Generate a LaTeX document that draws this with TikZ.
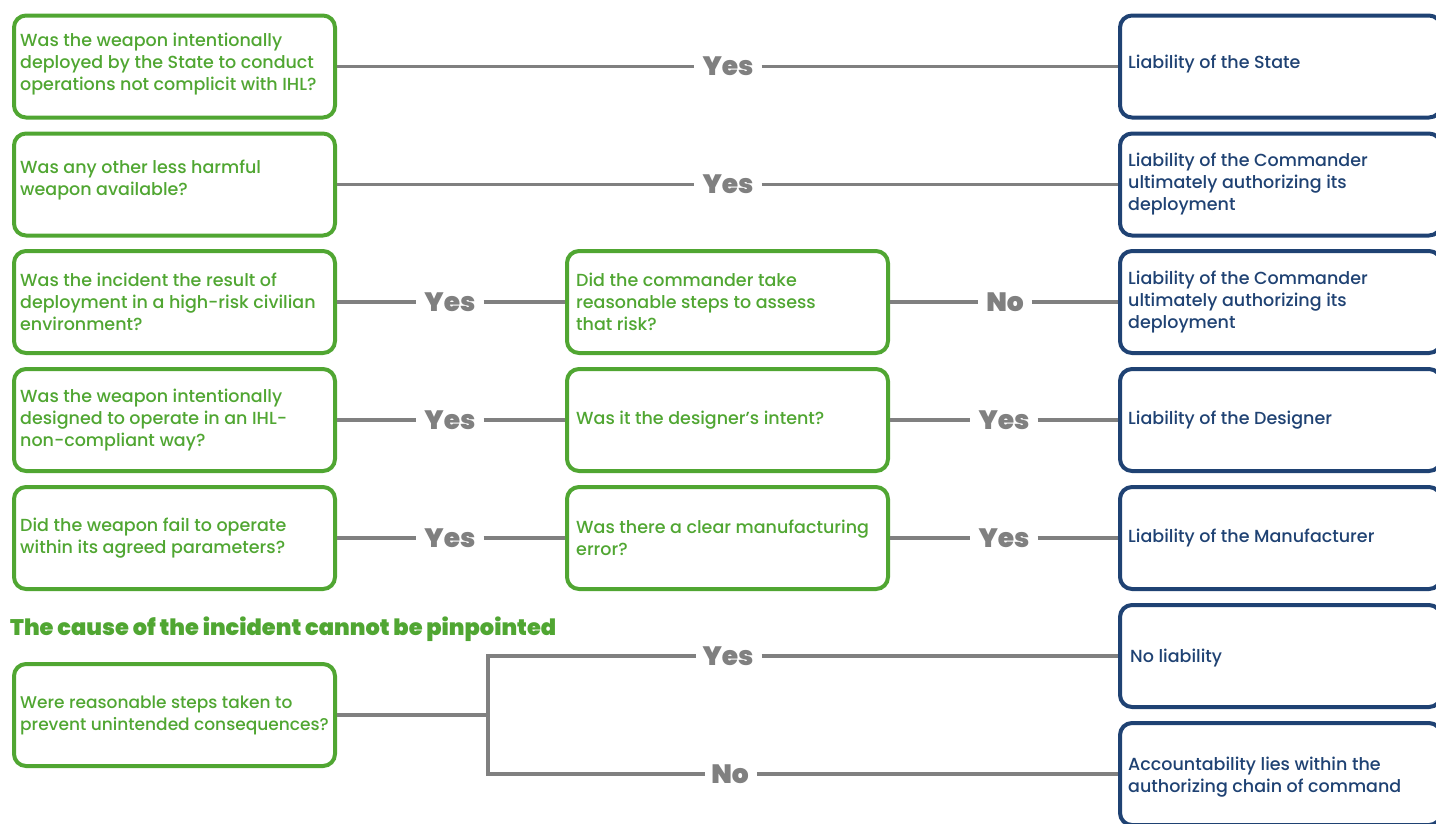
\documentclass[tikz,border=0pt]{standalone}
\usepackage{fontspec}
\setmainfont{Poppins}[UprightFont={* Medium},BoldFont={* Black}]
\definecolor{qgreen}{RGB}{80,166,50}
\definecolor{anavy}{RGB}{31,66,115}
\definecolor{lgray}{RGB}{128,128,128}
\begin{document}
\begin{tikzpicture}[x=1pt,y=-1pt,
  qbox/.style={draw=qgreen,line width=4pt,rounded corners=12pt,minimum width=321pt,minimum height=102pt,inner sep=0pt},
  abox/.style={draw=anavy,line width=4pt,rounded corners=12pt,minimum width=321pt,minimum height=102pt,inner sep=0pt},
  qtext/.style={anchor=west,align=left,text=qgreen,font=\fontsize{17.5}{22}\selectfont,inner sep=0pt},
  atext/.style={anchor=west,align=left,text=anavy,font=\fontsize{17.5}{22}\selectfont,inner sep=0pt},
  lab/.style={text=lgray,font=\fontsize{26.5}{26.5}\selectfont\bfseries,inner xsep=8pt,inner ysep=0pt},
  conn/.style={draw=lgray,line width=3.5pt}
]
\useasboundingbox (0,0) rectangle (1436,823);
\clip (0,0) rectangle (1436,823);
% left question boxes
\node[qbox] (q1) at (174.5,66.5) {};
\node[qbox] (q2) at (174.5,184.5) {};
\node[qbox] (q3) at (174.5,302) {};
\node[qbox] (q4) at (174.5,420) {};
\node[qbox] (q5) at (174.5,538) {};
\node[qbox] (q6) at (174.5,715) {};
% middle boxes
\node[qbox] (m3) at (727.5,302) {};
\node[qbox] (m4) at (727.5,420) {};
\node[qbox] (m5) at (727.5,538) {};
% right answer boxes
\node[abox] (r1) at (1280.5,66.5) {};
\node[abox] (r2) at (1280.5,184.5) {};
\node[abox] (r3) at (1280.5,302) {};
\node[abox] (r4) at (1280.5,420) {};
\node[abox] (r5) at (1280.5,538) {};
\node[abox] (r6) at (1280.5,656) {};
\node[abox] (r7) at (1280.5,774) {};
% texts
\node[qtext] (tq1) at (20,64) {Was the weapon intentionally\\deployed by the State to conduct\\operations not complicit with IHL?};
\node[qtext] (tq2) at (20,180) {Was any other less harmful\\weapon available?};
\node[qtext] (tq3) at (20,302) {Was the incident the result of\\deployment in a high-risk civilian\\environment?};
\node[qtext] (tq4) at (20,420) {Was the weapon intentionally\\designed to operate in an IHL-\\non-compliant way?};
\node[qtext] (tq5) at (20,538) {Did the weapon fail to operate\\within its agreed parameters?};
\node[qtext,font=\fontsize{17}{22}\selectfont] (tq6) at (20,715) {Were reasonable steps taken to\\prevent unintended consequences?};
\node[qtext] (tm3) at (576,302) {Did the commander take\\reasonable steps to assess\\that risk?};
\node[qtext] (tm4) at (576,420) {Was it the designer’s intent?};
\node[qtext] (tm5) at (576,538) {Was there a clear manufacturing\\error?};
\node[atext] (tr1) at (1128,64) {Liability of the State};
\node[atext] (tr2) at (1128,184) {Liability of the Commander\\ultimately authorizing its\\deployment};
\node[atext] (tr3) at (1128,302) {Liability of the Commander\\ultimately authorizing its\\deployment};
\node[atext] (tr4) at (1128,420) {Liability of the Designer};
\node[atext] (tr5) at (1128,538) {Liability of the Manufacturer};
\node[atext] (tr6) at (1130,658) {No liability};
\node[atext] (tr7) at (1128,777) {Accountability lies within the\\authorizing chain of command};
% heading
\node[anchor=west,inner sep=0pt,text=qgreen,font=\fontsize{22.5}{22.5}\selectfont\bfseries] (head) at (10,629) {The cause of the incident cannot be pinpointed};
% labels
\node[lab] (y1) at (728,66.5) {Yes};
\node[lab] (y2) at (728,184.5) {Yes};
\node[lab] (y3a) at (450,302) {Yes};
\node[lab] (n3b) at (1005,302) {No};
\node[lab] (y4a) at (450,420) {Yes};
\node[lab] (y4b) at (1004,420) {Yes};
\node[lab] (y5a) at (450,538) {Yes};
\node[lab] (y5b) at (1004,538) {Yes};
\node[lab] (y6) at (728,656) {Yes};
\node[lab] (n7) at (730,774) {No};
\coordinate (s) at (488,715);
% connectors
\draw[conn] (q1) -- (y1) -- (r1);
\draw[conn] (q2) -- (y2) -- (r2);
\draw[conn] (q3) -- (y3a) -- (m3);
\draw[conn] (m3) -- (n3b) -- (r3);
\draw[conn] (q4) -- (y4a) -- (m4);
\draw[conn] (m4) -- (y4b) -- (r4);
\draw[conn] (q5) -- (y5a) -- (m5);
\draw[conn] (m5) -- (y5b) -- (r5);
\draw[conn] (q6.east) -- (s);
\draw[conn,line cap=rect] (y6.west) -- (y6.west -| s) -- (n7.west -| s) -- (n7.west);
\draw[conn] (y6) -- (r6.west);
\draw[conn] (n7) -- (r7.west);
\end{tikzpicture}
\end{document}
